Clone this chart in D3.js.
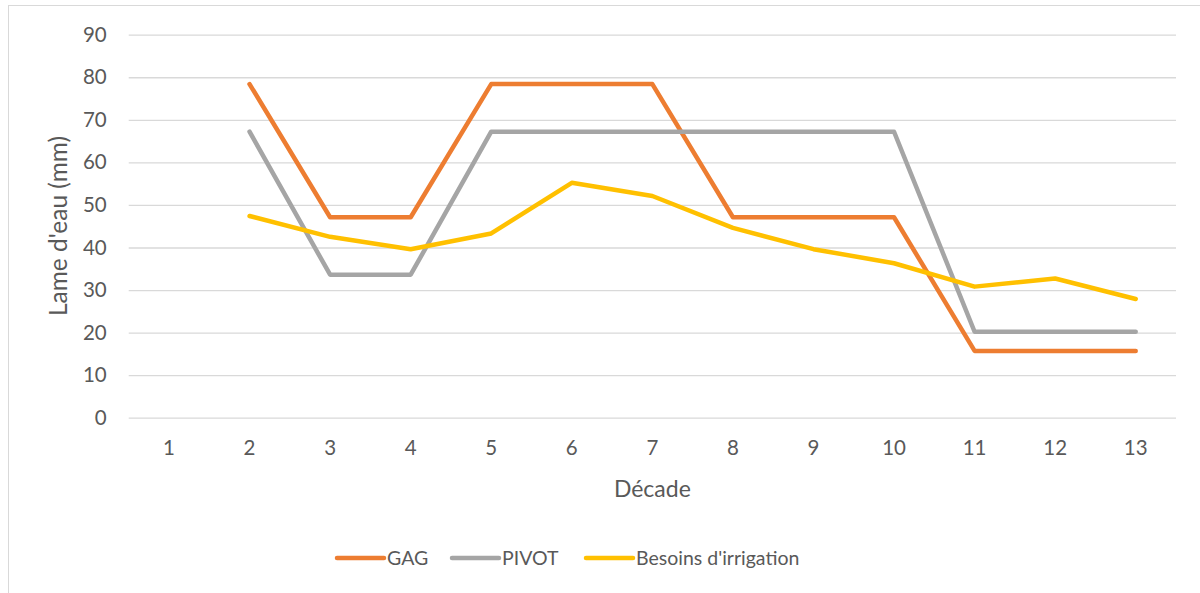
<!DOCTYPE html>
<html>
<head>
<meta charset="utf-8">
<script src="https://cdn.jsdelivr.net/npm/d3@7"></script>
<style>
  html, body { margin: 0; padding: 0; background: #fff; }
  svg { display: block; font-family: Lato, "Open Sans", sans-serif; }
</style>
</head>
<body>
<svg id="chart" width="1200" height="593"></svg>
<script>
// Decades (x categories)
const decades = ["1","2","3","4","5","6","7","8","9","10","11","12","13"];
// Water depth per decade, in mm (null = no value)
const gag     = [null, 78.4, 47.1, 47.1, 78.4, 78.4, 78.4, 47.1, 47.1, 47.1, 15.7, 15.7, 15.7];
const pivot   = [null, 67.2, 33.6, 33.6, 67.2, 67.2, 67.2, 67.2, 67.2, 67.2, 20.2, 20.2, 20.2];
const besoins = [null, 47.4, 42.5, 39.6, 43.3, 55.2, 52.1, 44.6, 39.6, 36.3, 30.8, 32.7, 27.9];
const yTicks  = [0, 10, 20, 30, 40, 50, 60, 70, 80, 90];

const series = [
  { name: "GAG", values: gag, color: "#ED7D31" },
  { name: "PIVOT", values: pivot, color: "#A5A5A5" },
  { name: "Besoins d'irrigation", values: besoins, color: "#FFC000" }
];

const svg = d3.select("#chart");
const plot = { left: 128.7, right: 1176, top: 34.7, bottom: 417.7 };
const textColor = "#595959";
const tickSize = 20.5;

// Outer chart frame
svg.append("rect")
  .attr("x", 8.5).attr("y", 5.5)
  .attr("width", 1300).attr("height", 700)
  .attr("fill", "none").attr("stroke", "#D9D9D9").attr("stroke-width", 1);

const x = d3.scaleBand().domain(decades).range([plot.left, plot.right]).padding(0);
const y = d3.scaleLinear().domain([0, 90]).range([plot.bottom, plot.top]);

// Horizontal gridlines + y labels
const yAxis = d3.axisLeft(y).tickValues(yTicks).tickSize(-(plot.right - plot.left)).tickPadding(22);
const gy = svg.append("g").attr("transform", `translate(${plot.left},0)`).call(yAxis);
gy.select(".domain").remove();
gy.selectAll(".tick line").attr("stroke", "#D9D9D9").attr("stroke-width", 1.3);
gy.selectAll(".tick text")
  .attr("fill", textColor).attr("font-size", tickSize).attr("font-family", "Lato, sans-serif");

// x labels
const xAxis = d3.axisBottom(x).tickSize(0).tickPadding(23);
const gx = svg.append("g").attr("transform", `translate(0,${plot.bottom})`).call(xAxis);
gx.select(".domain").remove();
gx.selectAll(".tick text")
  .attr("fill", textColor).attr("font-size", tickSize).attr("font-family", "Lato, sans-serif");

// Lines
const line = d3.line()
  .defined(d => d.v !== null)
  .x(d => x(d.k) + x.bandwidth() / 2)
  .y(d => y(d.v));

series.forEach(s => {
  svg.append("path")
    .datum(decades.map((k, i) => ({ k, v: s.values[i] })))
    .attr("d", line)
    .attr("fill", "none")
    .attr("stroke", s.color)
    .attr("stroke-width", 4.5)
    .attr("stroke-linejoin", "round")
    .attr("stroke-linecap", "round");
});

// Axis titles
svg.append("text")
  .attr("transform", "translate(67,226) rotate(-90)")
  .attr("text-anchor", "middle")
  .attr("fill", textColor).attr("font-size", 24.5)
  .text("Lame d'eau (mm)");

svg.append("text")
  .attr("x", (plot.left + plot.right) / 2).attr("y", 497)
  .attr("text-anchor", "middle")
  .attr("fill", textColor).attr("font-size", 23)
  .text("Décade");

// Legend
const legendX = [337, 452, 586];
const legend = svg.append("g");
series.forEach((s, i) => {
  const g = legend.append("g").attr("transform", `translate(${legendX[i]},558)`);
  g.append("line")
    .attr("x1", 0).attr("x2", 47).attr("y1", 0).attr("y2", 0)
    .attr("stroke", s.color).attr("stroke-width", 4.5).attr("stroke-linecap", "round");
  g.append("text")
    .attr("x", 50).attr("y", 7)
    .attr("fill", textColor).attr("font-size", 19.5)
    .text(s.name);
});
</script>
</body>
</html>
